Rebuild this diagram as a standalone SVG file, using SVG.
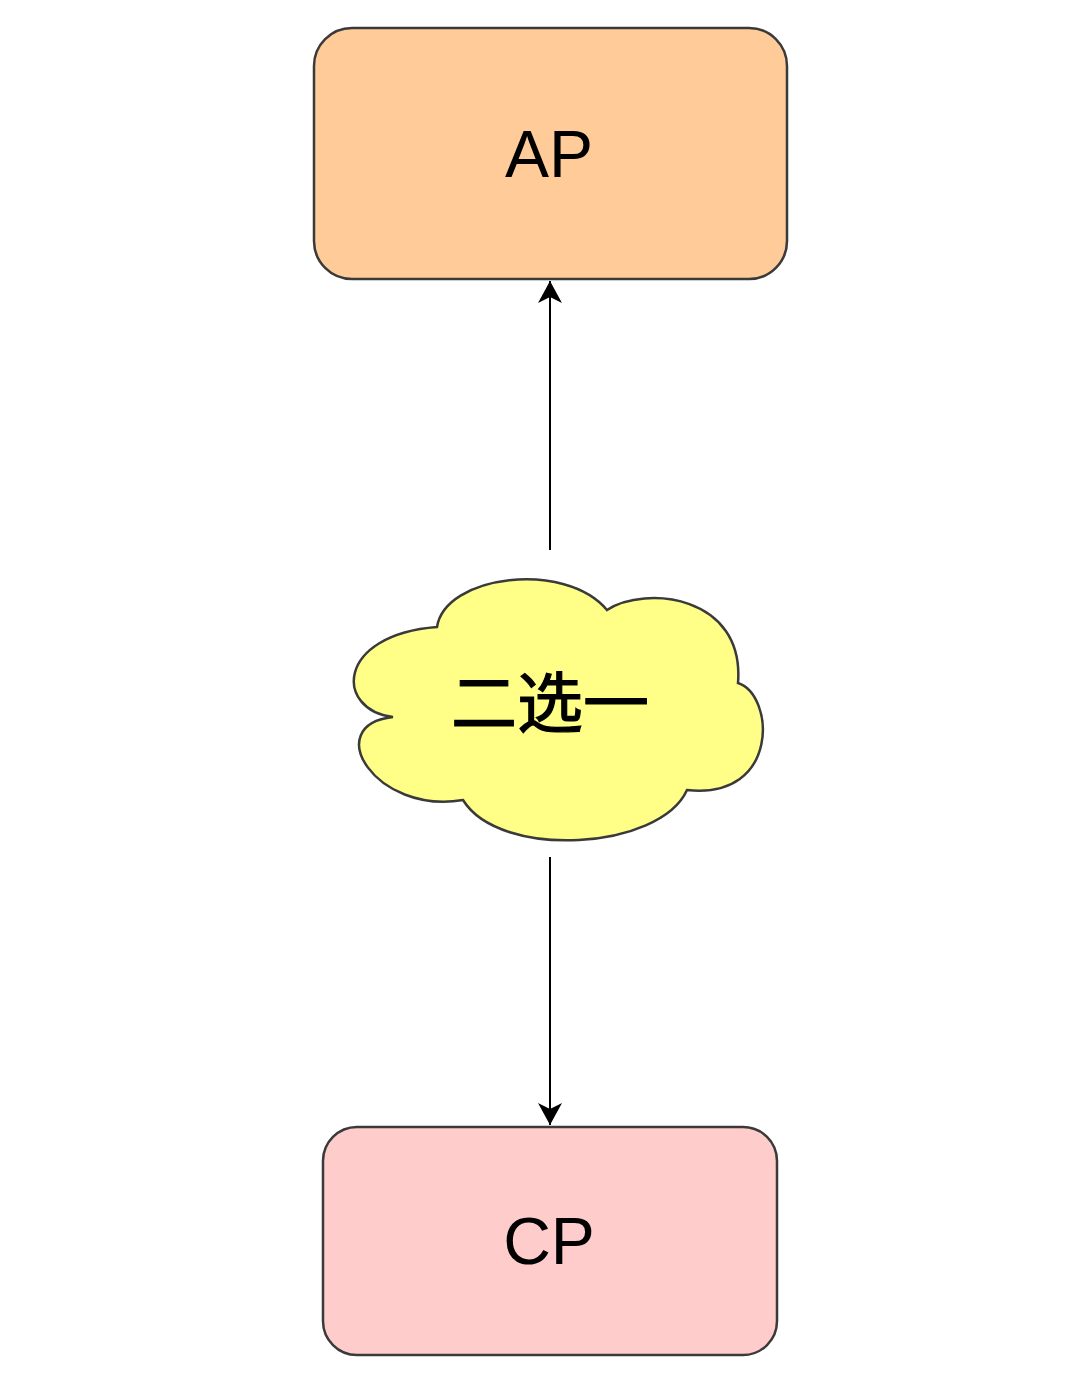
<svg xmlns="http://www.w3.org/2000/svg" width="1080" height="1384" viewBox="0 0 1080 1384">
<style>
.box{stroke:#3a3a3a;stroke-width:2.5}
.lbl{font-family:"Liberation Sans","Noto Sans CJK SC",sans-serif;font-size:66px;fill:#000;text-anchor:middle}
.cjk{font-family:"Noto Sans CJK SC",sans-serif;font-size:66px;font-weight:400;fill:#000;text-anchor:middle}
.conn{stroke:#000;stroke-width:2;fill:none}
</style>
<defs>
<marker id="ah" viewBox="0 0 22 24" refX="22" refY="12" markerWidth="22" markerHeight="24" markerUnits="userSpaceOnUse" orient="auto">
<path d="M0 0 L22 12 L0 24 L6 12 Z" fill="#000"/>
</marker>
</defs>
<rect width="1080" height="1384" fill="#fff"/>
<g id="ap">
<rect class="box" x="314" y="28" width="473" height="251" rx="38" fill="#ffcc99"/>
<text class="lbl" x="549" y="177">AP</text>
</g>
<g id="cp">
<rect class="box" x="323" y="1127" width="454" height="228" rx="34" fill="#ffcccc"/>
<text class="lbl" x="549" y="1264">CP</text>
</g>
<g id="choice">
<path class="box" fill="#ffff88" d="M437 627 C445 575,565 560,607 610 C645 585,745 595,738 683 C775 695,780 800,687 790 C660 850,500 860,463 800 C375 815,320 725,393 717 C335 710,335 635,437 627 Z"/>
<text class="cjk" x="550" y="727" stroke="#000" stroke-width="1.2">二选一</text>
</g>
<g id="connectors">
<line class="conn" x1="550" y1="550" x2="550" y2="281" marker-end="url(#ah)"/>
<line class="conn" x1="550" y1="857" x2="550" y2="1125" marker-end="url(#ah)"/>
</g>
</svg>
